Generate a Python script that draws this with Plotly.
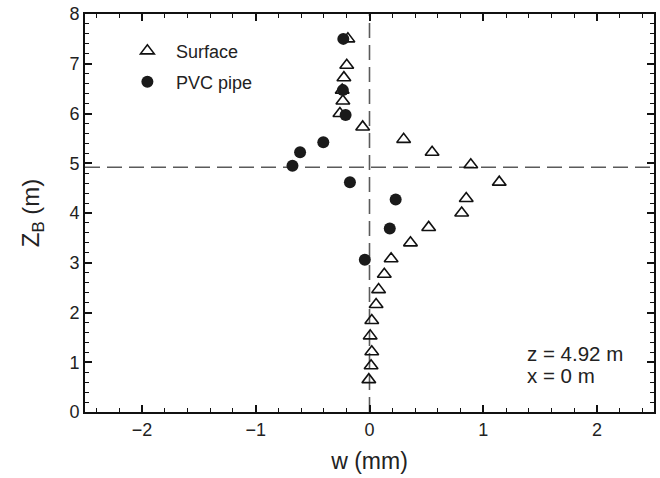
import plotly.graph_objects as go

# Surface (open triangles)
surf_w = [-0.19, -0.20, -0.225, -0.24, -0.234, -0.26, -0.06, 0.30, 0.55, 0.89,
          1.14, 0.85, 0.81, 0.52, 0.36, 0.19, 0.13, 0.08, 0.058, 0.02,
          0.006, 0.02, 0.014, -0.006]
surf_z = [7.50, 6.97, 6.72, 6.47, 6.25, 6.00, 5.73, 5.48, 5.22, 4.97,
          4.62, 4.29, 4.00, 3.71, 3.40, 3.08, 2.77, 2.46, 2.16, 1.84,
          1.53, 1.21, 0.93, 0.65]

# PVC pipe (filled circles)
pvc_w = [-0.23, -0.234, -0.21, -0.406, -0.61, -0.677, -0.172, 0.23, 0.178, -0.041]
pvc_z = [7.50, 6.47, 5.97, 5.42, 5.22, 4.95, 4.62, 4.27, 3.69, 3.06]

ref_x = 0.0
ref_z = 4.92
x_range = [-2.5, 2.5]
y_range = [0, 8]
x_ticks = [-2, -1, 0, 1, 2]
y_ticks = [0, 1, 2, 3, 4, 5, 6, 7, 8]

FONT = "Liberation Sans, Arial, sans-serif"
TXT = "#222222"

fig = go.Figure()
fig.add_trace(go.Scatter(
    x=surf_w, y=surf_z, mode="markers", name="Surface", legend="legend",
    marker=dict(symbol="triangle-up-open", size=12, color="#111111",
                line=dict(width=1.6, color="#111111")),
))
fig.add_trace(go.Scatter(
    x=pvc_w, y=pvc_z, mode="markers", name="PVC pipe", legend="legend2",
    marker=dict(symbol="circle", size=12, color="#1a1a1a",
                line=dict(width=0)),
))

dash_style = dict(color="#5a5a5a", width=1.6, dash="15px,7px")
fig.add_shape(type="line", xref="x", yref="paper", x0=ref_x, x1=ref_x, y0=0, y1=1,
              line=dash_style, layer="below")
fig.add_shape(type="line", xref="paper", yref="y", x0=0, x1=1, y0=ref_z, y1=ref_z,
              line=dash_style, layer="below")

for txt, yy in [("z = 4.92 m", 353), ("x = 0 m", 375)]:
    fig.add_annotation(
        xref="paper", yref="paper", x=(527 - 85) / 571, y=(412 - yy) / 399.3,
        xanchor="left", yanchor="middle",
        text=txt, showarrow=False, align="left",
        font=dict(family=FONT, size=20.5, color=TXT),
    )

axis_common = dict(
    showline=True, linecolor="#111111", linewidth=2, mirror="ticks",
    ticks="inside", ticklen=7, tickwidth=1.6, tickcolor="#111111",
    showgrid=False, zeroline=False,
    tickfont=dict(family=FONT, size=18, color=TXT),
    minor=dict(ticks="inside", ticklen=4, tickwidth=1.3, tickcolor="#111111", dtick=0.2, showgrid=False),
)

fig.update_xaxes(range=x_range, tickvals=x_ticks, **axis_common,
                 title=dict(text="w (mm)", font=dict(family=FONT, size=23, color=TXT), standoff=14))
fig.update_yaxes(range=y_range, tickvals=y_ticks, **axis_common,
                 title=dict(text="Z<sub>B</sub> (m)", font=dict(family=FONT, size=24, color=TXT), standoff=23))

leg_common = dict(xanchor="left", yanchor="middle", bgcolor="rgba(0,0,0,0)",
                  font=dict(family=FONT, size=18, color=TXT), itemwidth=47)
fig.update_layout(
    width=660, height=478,
    margin=dict(l=85, r=4, t=13, b=66),
    plot_bgcolor="white", paper_bgcolor="white",
    font=dict(family=FONT, color=TXT),
    legend=dict(x=(119 - 85) / 571, y=(412 - 50) / 399.3, **leg_common),
    legend2=dict(x=(119 - 85) / 571, y=(412 - 81) / 399.3, **leg_common),
    showlegend=True,
)

fig.write_html("out.html")
